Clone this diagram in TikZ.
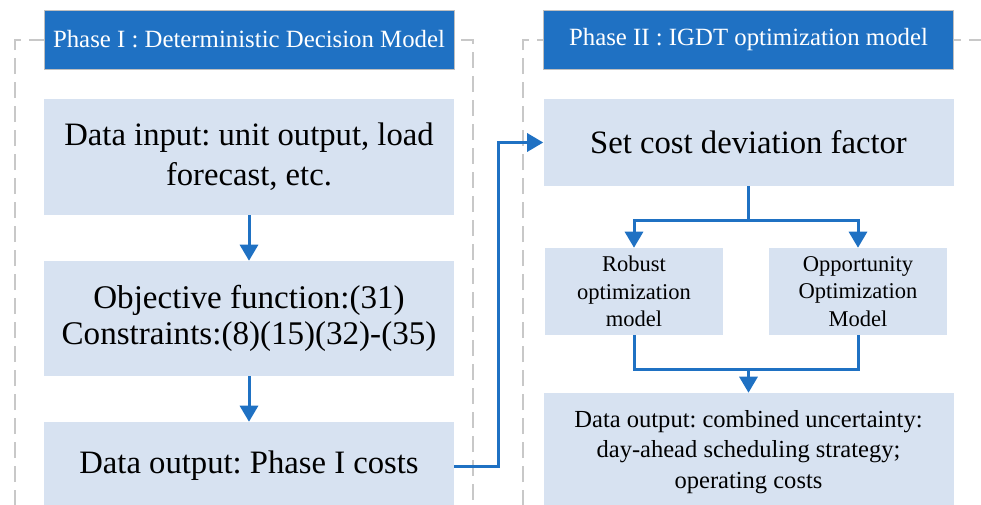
\documentclass[tikz,border=0pt]{standalone}
\usepackage{fontspec}
\setmainfont{Liberation Serif}
\usepackage{xcolor}
\usetikzlibrary{arrows.meta}
\usetikzlibrary{calc}
\frenchspacing
\definecolor{phaseblue}{RGB}{31,113,195}
\definecolor{boxblue}{RGB}{215,226,241}
\definecolor{framegray}{RGB}{200,200,200}
\tikzstyle{frame} = [draw=framegray, line width=1.5pt, dash pattern=on 12pt off 6pt]
\tikzstyle{header} = [rectangle, minimum width=307.5pt, minimum height=44.25pt, text centered, draw=black!25, fill=phaseblue, text=white, font=\fontsize{18.6pt}{22pt}\selectfont]
\tikzstyle{bigbox} = [rectangle, minimum width=307.5pt, align=center, fill=boxblue, font=\fontsize{24.5pt}{30pt}\selectfont]
\tikzstyle{smallbox} = [rectangle, minimum width=133.5pt, minimum height=65.25pt, align=center, fill=boxblue, font=\fontsize{16.9pt}{20.6pt}\selectfont]
\tikzstyle{line} = [draw=phaseblue, line width=2.25pt]
\tikzstyle{arrow} = [line, -{Triangle[width=13.5pt,length=12pt]}]

\begin{document}
\begin{tikzpicture}[x=.75pt, y=-.75pt]
    \clip (0,0) rectangle (981,504);
    % dashed phase frames
    \draw[frame] (15,530) -- (15,40) -- (473,40) -- (473,530);
    \draw[frame] (523,530) -- (523,40) -- (1010,40);

    % Phase I
    \node[header] (head1) at (249,39.5) {Phase I : Deterministic Decision Model};
    \node[bigbox, minimum height=87pt] (input) at (249,157) {Data input: unit output, load\\forecast, etc.};
    \node[bigbox, minimum height=86.25pt, font=\fontsize{24.8pt}{27.5pt}\selectfont] (model1) at (249,318.5) {Objective function:(31)\\Constraints:(8)(15)(32)-(35)};
    \node[bigbox, minimum height=66pt] (out1) at (249,466) {Data output: Phase I costs};

    % Phase II
    \node[header] (head2) at (748.5,39.5) {Phase II : IGDT optimization model};
    \node[bigbox, minimum height=65.25pt] (setcost) at (748.5,142.5) {Set cost deviation factor};
    \node[smallbox] (robust) at (634,291.5) {Robust\\optimization\\model};
    \node[smallbox] (opport) at (858,291.5) {Opportunity\\Optimization\\Model};
    \node[bigbox, minimum height=88.5pt, font=\fontsize{18.4pt}{23pt}\selectfont] (out2) at (748.5,452) {Data output: combined uncertainty:\\day-ahead scheduling strategy;\\operating costs};

    % connectors
    \draw[arrow] (input) -- (model1);
    \draw[arrow] (model1) -- (out1);
    \draw[arrow] (out1.east) -- ++(44,0) |- (setcost.west);
    \draw[line] (setcost.south) -- ++(0,34) coordinate (split);
    \draw[arrow] (split) -| (robust.north);
    \draw[arrow] (split) -| (opport.north);
    \draw[line] (robust.south) -- ++(0,34) -| (opport.south);
    \coordinate (merge) at ($(robust.south)!.5!(opport.south)+(0,34)$);
    \draw[arrow] (merge -| out2.north) -- (out2.north);
\end{tikzpicture}
\end{document}
